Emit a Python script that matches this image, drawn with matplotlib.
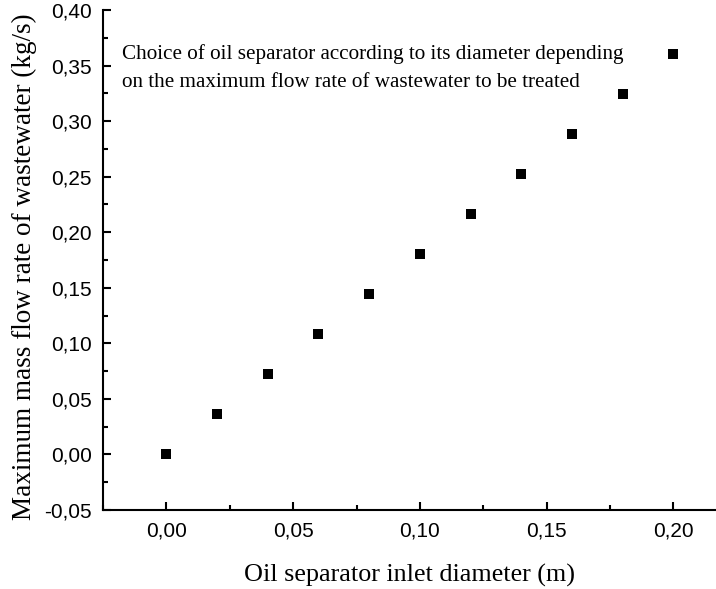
import matplotlib
matplotlib.use("Agg")
import matplotlib.pyplot as plt
from matplotlib.ticker import MultipleLocator, FuncFormatter

diameter = [0.00, 0.02, 0.04, 0.06, 0.08, 0.10, 0.12, 0.14, 0.16, 0.18, 0.20]
flow = [0.000, 0.036, 0.072, 0.108, 0.144, 0.180, 0.216, 0.252, 0.288, 0.324, 0.360]
legend_text = ("Choice of oil separator according to its diameter depending\n"
               "on the maximum flow rate of wastewater to be treated")
xlabel = "Oil separator inlet diameter (m)"
ylabel = "Maximum mass flow rate of wastewater (kg/s)"

fig = plt.figure(figsize=(7.16, 5.89), dpi=100)
ax = fig.add_axes([103/716, 1-510/589, 1-103/716, (510-10)/589])

ax.scatter(diameter, flow, marker="s", s=55, color="black", zorder=3, linewidths=0)

ax.set_xlim(-0.025, 0.2168)
ax.set_ylim(-0.05, 0.40)
ax.xaxis.set_major_locator(MultipleLocator(0.05))
ax.xaxis.set_minor_locator(MultipleLocator(0.025))
ax.yaxis.set_major_locator(MultipleLocator(0.05))
ax.yaxis.set_minor_locator(MultipleLocator(0.025))
fmt = FuncFormatter(lambda v, p: f"{v:.2f}".replace(".", ",").replace("-0,00", "0,00"))
ax.xaxis.set_major_formatter(fmt)
ax.yaxis.set_major_formatter(fmt)

for s in ["top", "right"]:
    ax.spines[s].set_visible(False)
for s in ["left", "bottom"]:
    ax.spines[s].set_linewidth(1.5)

ax.tick_params(which="major", direction="in", length=6, width=1.5,
               labelsize=15, pad=8)
ax.tick_params(which="minor", direction="in", length=3.5, width=1.5)
for lab in ax.get_xticklabels() + ax.get_yticklabels():
    lab.set_fontfamily("Liberation Sans")

ax.set_xlabel(xlabel, fontfamily="Liberation Serif", fontsize=18.8, labelpad=17)
ax.set_ylabel(ylabel, fontfamily="Liberation Serif", fontsize=19.5)
ax.yaxis.set_label_coords(-0.107, 0.486)

ax.text(122/716, 1-68/589, legend_text, transform=fig.transFigure,
        fontfamily="Liberation Serif", fontsize=15.2, va="center", ha="left",
        linespacing=1.6)

fig.savefig("out.png", dpi=100)
